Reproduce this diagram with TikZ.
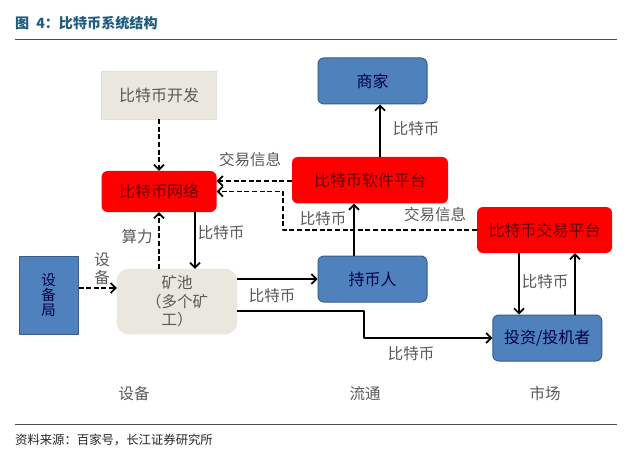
\documentclass[tikz,border=0pt]{standalone}
\usepackage{fontspec}
\usetikzlibrary{arrows.meta}
\setmainfont{Noto Sans CJK SC}
\definecolor{bluefill}{HTML}{4F81BD}
\definecolor{blueline}{HTML}{385D8A}
\definecolor{beigefill}{HTML}{EAE8DE}
\definecolor{titlecolor}{HTML}{1F5C7E}
\tikzset{
	boxfont/.style={font=\fontsize{16}{18}\selectfont},
	bluebox/.style={boxfont,draw=blueline,line width=1pt,fill=bluefill,rounded corners=6pt,text=black!75!blue,inner sep=0pt},
	redbox/.style={boxfont,fill=red,rounded corners=6pt,text=black!60!red,inner sep=0pt},
	beigebox/.style={boxfont,draw=black!12,fill=beigefill,text=black!65,inner sep=0pt},
	lab/.style={text=black!65,inner sep=0pt},
	solidarrow/.style={-{Straight Barb[length=5pt,width=10pt]},line width=1.7pt},
	dasharrow/.style={solidarrow,dash pattern=on 5pt off 2.6pt},
	rule/.style={draw=black!70,line width=.8pt}
}
\begin{document}
\begin{tikzpicture}[x=1pt,y=-1pt,font=\fontsize{15.5}{18}\selectfont,line join=round]
	\useasboundingbox[fill=white] (0,0) rectangle (640,468);
	%header and footer
	\node[anchor=west,inner sep=0pt,text=titlecolor,font=\fontsize{14.1}{16}\selectfont\bfseries] (title) at (15,23) {图\hspace{7pt}4：比特币系统结构};
	\node[anchor=west,inner sep=0pt,text=black!85,font=\fontsize{12.35}{16}\selectfont] (source) at (15,440) {资料来源：百家号，长江证券研究所};
	\coordinate (topL) at (15,39);
	\coordinate (topR) at (617,39);
	\coordinate (botL) at (15,424.5);
	\coordinate (botR) at (617,424.5);
	\draw[rule] (topL)--(topR);
	\draw[rule] (botL)--(botR);
	%boxes
	\node[beigebox,minimum width=115pt,minimum height=48pt] (kaifa) at (159,95) {比特币开发};
	\node[redbox,minimum width=115pt,minimum height=41pt] (wangluo) at (159,191.5) {比特币网络};
	\node[bluebox,minimum width=109pt,minimum height=46pt] (shangjia) at (372.5,81) {商家};
	\node[redbox,minimum width=156pt,minimum height=46.5pt] (ruanjian) at (370,180.2) {比特币软件平台};
	\node[redbox,minimum width=135pt,minimum height=46pt] (jiaoyi) at (544.5,230) {比特币交易平台};
	\node[bluebox,minimum width=109pt,minimum height=46pt] (chibi) at (372.5,279) {持币人};
	\node[bluebox,minimum width=109pt,minimum height=46pt] (touzi) at (547.3,338) {投资/投机者};
	\node[bluebox,rounded corners=0pt,minimum width=59pt,minimum height=78pt,align=center,font=\fontsize{14.5}{15}\selectfont] (shebei) at (48.5,295) {设\\备\\局};
	\node[beigebox,rounded corners=12pt,minimum width=120pt,minimum height=65pt,align=center,font=\fontsize{15.5}{18.5}\selectfont] (kuangchi) at (177,301.5) {矿池\\（多个矿\\工）};
	%connectors
	\draw[dasharrow] (kaifa.south)--(wangluo.north);
	\draw[dasharrow] (ruanjian.west|-0,181)--(wangluo.east|-0,181);
	\draw[dasharrow] (jiaoyi.west)-|(283,191.5)--(wangluo.east);
	\draw[dasharrow] (kuangchi.north-|wangluo.south)--(wangluo.south);
	\draw[solidarrow] ([xshift=36pt]wangluo.south)--([xshift=36pt]wangluo.south|-kuangchi.north);
	\draw[dasharrow] (shebei.east|-0,288)--(kuangchi.west|-0,288);
	\draw[solidarrow] (kuangchi.east|-0,279)--(chibi.west|-0,279);
	\draw[solidarrow] (kuangchi.east|-0,311)-|(364,338)--(touzi.west);
	\draw[solidarrow] (chibi.north-|354,0)--(ruanjian.south-|354,0);
	\draw[solidarrow] (ruanjian.north-|380,0)--(shangjia.south-|380,0);
	\draw[solidarrow] (jiaoyi.south-|519,0)--(touzi.north-|519,0);
	\draw[solidarrow] (touzi.north-|575,0)--(jiaoyi.south-|575,0);
	%labels
	\foreach \n/\x/\y/\t in {xinxiA/250/160/交易信息,xinxiB/435/214.5/交易信息,suanli/137/237/算力,
		biA/221/233/比特币,biB/323/218.5/比特币,biC/416/129/比特币,biD/272/296/比特币,biE/411/353.5/比特币,biF/545/282/比特币,
		stageA/134/394/设备,stageB/365/394/流通,stageC/545/394/市场}
	\node[lab] (\n) at (\x,\y) {\t};
	\node[lab,align=center] (shebeilab) at (102,269) {设\\备};
\end{tikzpicture}
\end{document}
